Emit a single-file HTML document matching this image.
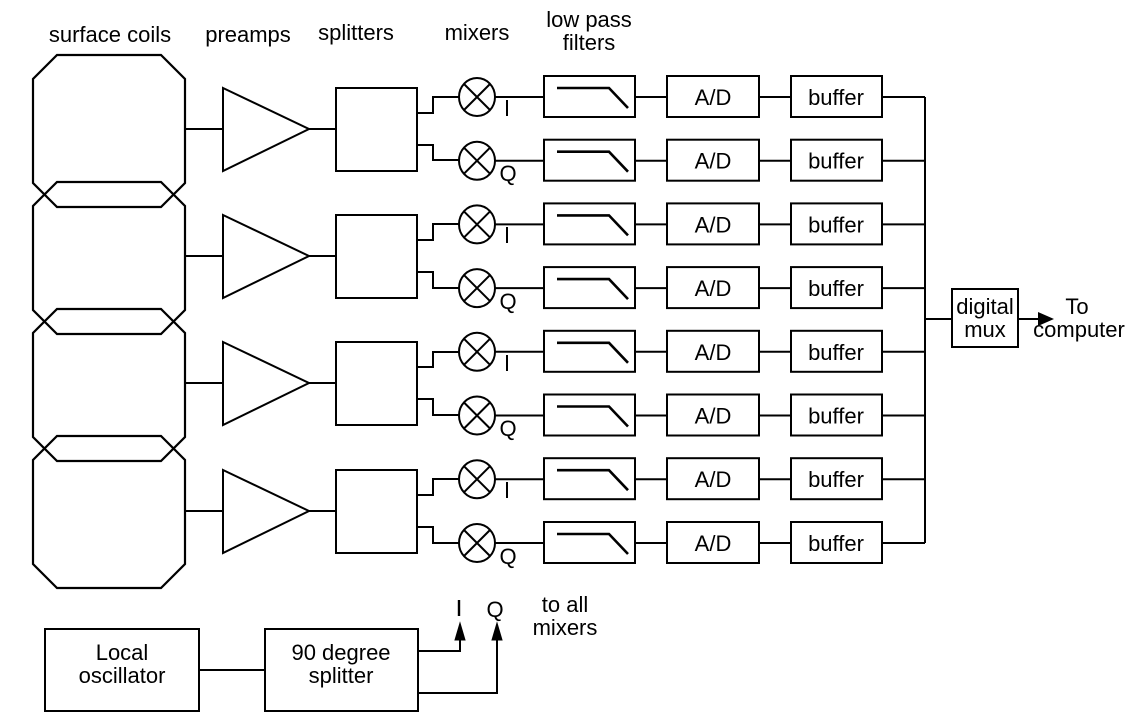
<!DOCTYPE html>
<html><head><meta charset="utf-8"><style>
html,body{margin:0;padding:0;background:#fff;}
svg{display:block;}
text{font-family:"Liberation Sans",sans-serif;font-size:22px;fill:#000;}
</style></head><body>
<svg width="1145" height="721" viewBox="0 0 1145 721" xmlns="http://www.w3.org/2000/svg">
<g fill="none" stroke="#000" stroke-width="2.2">
<!-- coils -->
<path d="M57,55 L161,55 L185,79 L185,183 L161,207 L57,207 L33,183 L33,79 Z"/>
<path d="M57,182 L161,182 L185,206 L185,310 L161,334 L57,334 L33,310 L33,206 Z"/>
<path d="M57,309 L161,309 L185,333 L185,437 L161,461 L57,461 L33,437 L33,333 Z"/>
<path d="M57,436 L161,436 L185,460 L185,564 L161,588 L57,588 L33,564 L33,460 Z"/>
</g>
<g id="blk" fill="none" stroke="#000" stroke-width="2">
</g>
<g fill="none" stroke="#000" stroke-width="2">
<!-- block 1 center 129 -->
<path d="M185,129 H223 M223,88 L309,129 L223,171 Z M309,129 H336"/>
<rect x="336" y="88" width="81" height="83"/>
<path d="M417,113 H433 V97 H459 M417,145 H433 V160 H459"/>

<path d="M185,256 H223 M223,215 L309,256 L223,298 Z M309,256 H336"/>
<rect x="336" y="215" width="81" height="83"/>
<path d="M417,240 H433 V224 H459 M417,272 H433 V288 H459"/>

<path d="M185,383 H223 M223,342 L309,383 L223,425 Z M309,383 H336"/>
<rect x="336" y="342" width="81" height="83"/>
<path d="M417,367 H433 V352 H459 M417,399 H433 V415 H459"/>

<path d="M185,511 H223 M223,470 L309,511 L223,553 Z M309,511 H336"/>
<rect x="336" y="470" width="81" height="83"/>
<path d="M417,495 H433 V479 H459 M417,527 H433 V543 H459"/>
</g>

<g fill="none" stroke="#000" stroke-width="2">
<!-- rows -->
<g transform="translate(0,97)">
<ellipse cx="477" cy="0" rx="18" ry="19"/><path d="M464,-13 L490,13 M490,-13 L464,13 M495,0 H544"/>
<rect x="544" y="-21" width="91" height="41"/><path d="M557,-9 H609 L628,11" stroke-width="2.6"/>
<path d="M635,0 H667"/><rect x="667" y="-21" width="92" height="41"/>
<path d="M759,0 H791"/><rect x="791" y="-21" width="91" height="41"/><path d="M882,0 H925"/>
</g>
<g transform="translate(0,160.7)">
<ellipse cx="477" cy="0" rx="18" ry="19"/><path d="M464,-13 L490,13 M490,-13 L464,13 M495,0 H544"/>
<rect x="544" y="-21" width="91" height="41"/><path d="M557,-9 H609 L628,11" stroke-width="2.6"/>
<path d="M635,0 H667"/><rect x="667" y="-21" width="92" height="41"/>
<path d="M759,0 H791"/><rect x="791" y="-21" width="91" height="41"/><path d="M882,0 H925"/>
</g>
<g transform="translate(0,224.4)">
<ellipse cx="477" cy="0" rx="18" ry="19"/><path d="M464,-13 L490,13 M490,-13 L464,13 M495,0 H544"/>
<rect x="544" y="-21" width="91" height="41"/><path d="M557,-9 H609 L628,11" stroke-width="2.6"/>
<path d="M635,0 H667"/><rect x="667" y="-21" width="92" height="41"/>
<path d="M759,0 H791"/><rect x="791" y="-21" width="91" height="41"/><path d="M882,0 H925"/>
</g>
<g transform="translate(0,288.1)">
<ellipse cx="477" cy="0" rx="18" ry="19"/><path d="M464,-13 L490,13 M490,-13 L464,13 M495,0 H544"/>
<rect x="544" y="-21" width="91" height="41"/><path d="M557,-9 H609 L628,11" stroke-width="2.6"/>
<path d="M635,0 H667"/><rect x="667" y="-21" width="92" height="41"/>
<path d="M759,0 H791"/><rect x="791" y="-21" width="91" height="41"/><path d="M882,0 H925"/>
</g>
<g transform="translate(0,351.8)">
<ellipse cx="477" cy="0" rx="18" ry="19"/><path d="M464,-13 L490,13 M490,-13 L464,13 M495,0 H544"/>
<rect x="544" y="-21" width="91" height="41"/><path d="M557,-9 H609 L628,11" stroke-width="2.6"/>
<path d="M635,0 H667"/><rect x="667" y="-21" width="92" height="41"/>
<path d="M759,0 H791"/><rect x="791" y="-21" width="91" height="41"/><path d="M882,0 H925"/>
</g>
<g transform="translate(0,415.5)">
<ellipse cx="477" cy="0" rx="18" ry="19"/><path d="M464,-13 L490,13 M490,-13 L464,13 M495,0 H544"/>
<rect x="544" y="-21" width="91" height="41"/><path d="M557,-9 H609 L628,11" stroke-width="2.6"/>
<path d="M635,0 H667"/><rect x="667" y="-21" width="92" height="41"/>
<path d="M759,0 H791"/><rect x="791" y="-21" width="91" height="41"/><path d="M882,0 H925"/>
</g>
<g transform="translate(0,479.2)">
<ellipse cx="477" cy="0" rx="18" ry="19"/><path d="M464,-13 L490,13 M490,-13 L464,13 M495,0 H544"/>
<rect x="544" y="-21" width="91" height="41"/><path d="M557,-9 H609 L628,11" stroke-width="2.6"/>
<path d="M635,0 H667"/><rect x="667" y="-21" width="92" height="41"/>
<path d="M759,0 H791"/><rect x="791" y="-21" width="91" height="41"/><path d="M882,0 H925"/>
</g>
<g transform="translate(0,543)">
<ellipse cx="477" cy="0" rx="18" ry="19"/><path d="M464,-13 L490,13 M490,-13 L464,13 M495,0 H544"/>
<rect x="544" y="-21" width="91" height="41"/><path d="M557,-9 H609 L628,11" stroke-width="2.6"/>
<path d="M635,0 H667"/><rect x="667" y="-21" width="92" height="41"/>
<path d="M759,0 H791"/><rect x="791" y="-21" width="91" height="41"/><path d="M882,0 H925"/>
</g>
<!-- bus and mux -->
<path d="M925,97 V543 M925,319 H952"/>
<rect x="952" y="289" width="66" height="58"/>
<path d="M1018,319 H1040"/>
<!-- I labels bars -->
<path d="M507,100 V116 M507,227 V243 M507,355 V371 M507,482 V498"/>
<!-- bottom -->
<rect x="45" y="629" width="154" height="82"/>
<rect x="265" y="629" width="153" height="82"/>
<path d="M199,670 H265 M418,651 H460 V638 M418,693 H497 V638"/>
</g>
<path d="M1038,312 L1054,319 L1038,326 Z" fill="#000"/>
<path d="M455,640 L460,623 L465,640 Z M492,640 L497,623 L502,640 Z" fill="#000" stroke="#000" stroke-width="1"/>

<g>
<text x="110" y="42" text-anchor="middle">surface coils</text>
<text x="248" y="42" text-anchor="middle">preamps</text>
<text x="356" y="40" text-anchor="middle">splitters</text>
<text x="477" y="40" text-anchor="middle">mixers</text>
<text x="589" y="27" text-anchor="middle">low pass</text>
<text x="589" y="50" text-anchor="middle">filters</text>
</g>
<g text-anchor="middle">
<text x="713" y="105">A/D</text><text x="836" y="105">buffer</text>
<text x="713" y="168.7">A/D</text><text x="836" y="168.7">buffer</text>
<text x="713" y="232.4">A/D</text><text x="836" y="232.4">buffer</text>
<text x="713" y="296.1">A/D</text><text x="836" y="296.1">buffer</text>
<text x="713" y="359.8">A/D</text><text x="836" y="359.8">buffer</text>
<text x="713" y="423.5">A/D</text><text x="836" y="423.5">buffer</text>
<text x="713" y="487.2">A/D</text><text x="836" y="487.2">buffer</text>
<text x="713" y="551">A/D</text><text x="836" y="551">buffer</text>
<text x="985" y="314">digital</text>
<text x="985" y="337">mux</text>
<text x="1077" y="314">To</text>
<text x="1079" y="337">computer</text>
<text x="122" y="660">Local</text>
<text x="122" y="683">oscillator</text>
<text x="341" y="660">90 degree</text>
<text x="341" y="683">splitter</text>
<text x="495" y="617">Q</text>
<text x="565" y="612">to all</text>
<text x="565" y="635">mixers</text>
</g>
<path d="M459,600 V616" stroke="#000" stroke-width="2.4"/>
<g text-anchor="middle" style="font-size:20px">
<text x="508" y="181">Q</text>
<text x="508" y="309">Q</text>
<text x="508" y="436">Q</text>
<text x="508" y="564">Q</text>
</g>
</svg>
</body></html>
